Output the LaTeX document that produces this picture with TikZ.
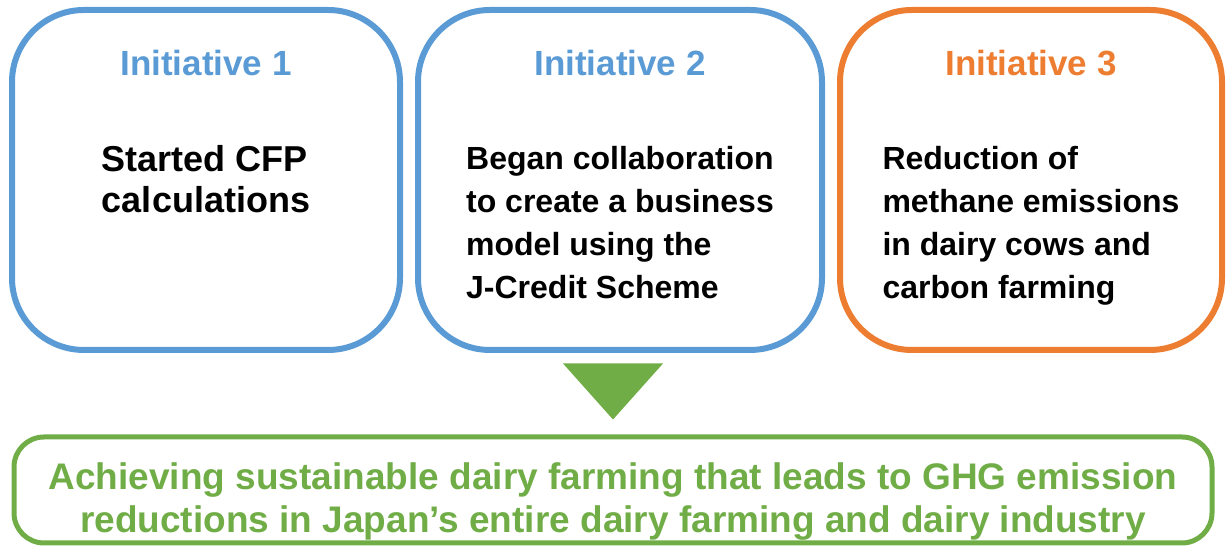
\documentclass[tikz,border=0pt]{standalone}
\usepackage{fontspec}
\setmainfont{Liberation Sans}
\usepackage{xcolor}
\usetikzlibrary{
  positioning,
  calc}

\definecolor{initblue}{HTML}{5B9BD5}
\definecolor{initorange}{HTML}{ED7D31}
\definecolor{goalgreen}{HTML}{70AD47}

\tikzset{initbox/.style={draw=#1, line width=3pt, rounded corners=36pt, minimum height=170pt, inner sep=0pt},
         headtext/.style={text=#1, font=\bfseries\fontsize{17.5}{21}\selectfont, inner sep=0pt},
         bodytext/.style={font=\bfseries\fontsize{18}{20.5}\selectfont, align=left, inner sep=0pt},
         bodynarrow/.style={font=\bfseries\fontsize{16}{21.5}\selectfont, align=left, inner sep=0pt},
         goalbox/.style={draw=goalgreen, line width=2.5pt, rounded corners=15pt, minimum width=599pt, minimum height=53pt},
         goaltext/.style={text=goalgreen, font=\bfseries\fontsize{18.5}{21.5}\selectfont, align=center, inner sep=0pt}
        }

\begin{document}
\begin{tikzpicture}

\useasboundingbox (0,0) rectangle (613.5pt,274.5pt);

%initiatives
\node[initbox=initblue, minimum width=194pt] (init1) at (103pt,184.5pt) {};
\node[initbox=initblue, minimum width=202pt] (init2) at (310pt,184.5pt) {};
\node[initbox=initorange, minimum width=191pt] (init3) at (515.5pt,184.5pt) {};

\node[headtext=initblue, below=21.5pt of init1.north] (head1) {Initiative 1};
\node[headtext=initblue, below=21.5pt of init2.north] (head2) {Initiative 2};
\node[headtext=initorange, below=21.5pt of init3.north] (head3) {Initiative 3};

\node[bodytext, below=34.5pt of head1] (body1) {Started CFP\\calculations};
\node[bodynarrow, below=34.5pt of head2] (body2) {Began collaboration\\to create a business\\model using the\\J-Credit Scheme};
\node[bodynarrow, below=34.5pt of head3] (body3) {Reduction of\\methane emissions\\in dairy cows and\\carbon farming};

%goal
\node[goalbox] (goal) at (306.5pt,29.5pt) {};
\node[goaltext] (goaltxt) at ([yshift=-6pt]goal.center) {Achieving sustainable dairy farming that leads to GHG emission\\reductions in Japan’s entire dairy farming and dairy industry};

\coordinate (tip) at ([yshift=7.5pt]goal.north);
\fill[goalgreen] (tip) -- ++(-25pt,28pt) -- ++(50pt,0pt) -- cycle;

\end{tikzpicture}
\end{document}
